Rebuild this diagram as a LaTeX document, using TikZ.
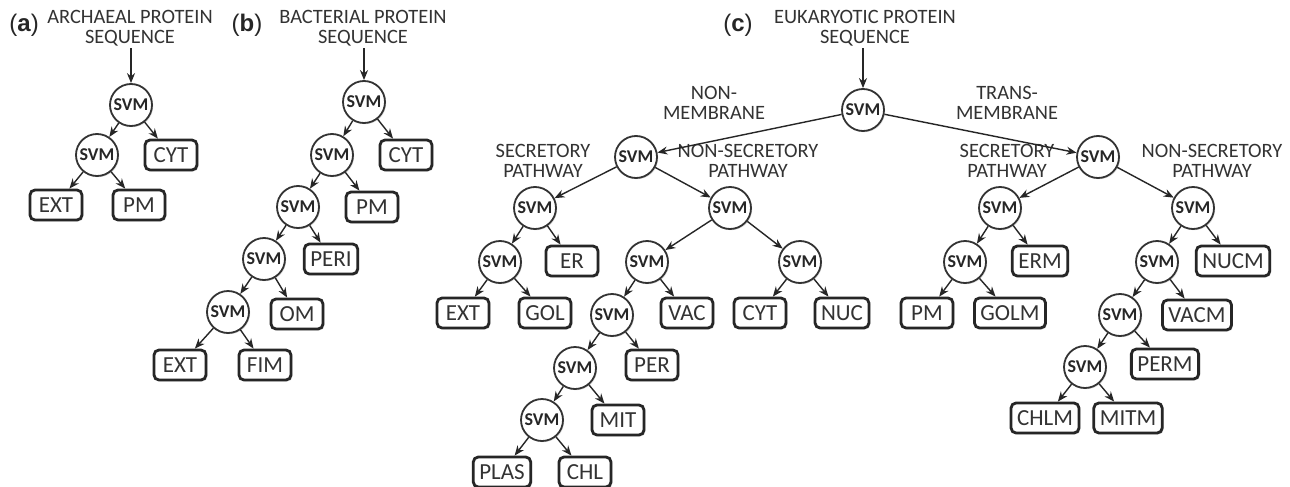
\documentclass[tikz,border=0pt]{standalone}
\usepackage{fontspec}
\setmainfont{Carlito}
\newfontfamily\labfont{Liberation Sans}
\usetikzlibrary{arrows.meta, shadows}

\begin{document}
\begin{tikzpicture}[x=0.5pt, y=-0.5pt,
    svm/.style={circle, draw=black!80, line width=0.9pt, fill=white, minimum size=21pt, inner sep=0pt,
        font=\fontsize{9}{9}\selectfont\bfseries, text=black!85,
        drop shadow={shadow xshift=0.6pt, shadow yshift=-0.6pt, opacity=0.25}},
    cls/.style={rectangle, rounded corners=2.5pt, draw=black!85, line width=1.4pt, fill=white,
        minimum width=26pt, minimum height=15pt, inner xsep=3pt, font=\fontsize{11.5}{11.5}\selectfont,
        text=black!80, drop shadow={shadow xshift=0.7pt, shadow yshift=-0.7pt, opacity=0.35}},
    hd/.style={align=center, inner sep=1pt, font=\fontsize{10.2}{9.8}\selectfont, text=black!80},
    lab/.style={inner sep=0pt, font=\labfont\fontsize{12}{12}\selectfont, text=black!85},
    arr/.style={-{Stealth[length=5pt, width=4pt]}, line width=0.7pt, draw=black!85}]

    % 0. 画布大小
    \path[use as bounding box, fill=white] (0,0) rectangle (1290,487);

    % 1. 古菌 (a)
    \node[lab] (La) at (24,25) {(\textbf{a})};
    \node[hd] (Ha) at (130,28) {ARCHAEAL PROTEIN\\SEQUENCE};
    \node[svm] (A1) at (131,105) {SVM};
    \node[svm] (A2) at (97,155) {SVM};
    \node[cls] (A3) at (171,155) {CYT};
    \node[cls] (A4) at (56,205) {EXT};
    \node[cls] (A5) at (139,205) {PM};

    \draw[arr] (Ha.south -| A1) -- (A1);
    \draw[arr] (A1) -- (A2);
    \draw[arr] (A1) -- (A3);
    \draw[arr] (A2) -- (A4);
    \draw[arr] (A2) -- (A5);

    % 2. 细菌 (b)
    \node[lab] (Lb) at (247,25) {(\textbf{b})};
    \node[hd] (Hb) at (363,28) {BACTERIAL PROTEIN\\SEQUENCE};
    \node[svm] (B1) at (364,102) {SVM};
    \node[svm] (B2) at (332,155) {SVM};
    \node[cls] (B3) at (406,155) {CYT};
    \node[svm] (B4) at (298,207) {SVM};
    \node[cls] (B5) at (372,207) {PM};
    \node[svm] (B6) at (264,259) {SVM};
    \node[cls] (B7) at (331,259) {PERI};
    \node[svm] (B8) at (228,312) {SVM};
    \node[cls] (B9) at (297,314) {OM};
    \node[cls] (B10) at (180,365) {EXT};
    \node[cls] (B11) at (265,365) {FIM};

    \draw[arr] (Hb.south -| B1) -- (B1);
    \draw[arr] (B1) -- (B2);
    \draw[arr] (B1) -- (B3);
    \draw[arr] (B2) -- (B4);
    \draw[arr] (B2) -- (B5);
    \draw[arr] (B4) -- (B6);
    \draw[arr] (B4) -- (B7);
    \draw[arr] (B6) -- (B8);
    \draw[arr] (B6) -- (B9);
    \draw[arr] (B8) -- (B10);
    \draw[arr] (B8) -- (B11);

    % 3. 真核 (c): 根节点及分支标签
    \node[lab] (Lc) at (738,25) {(\textbf{c})};
    \node[hd] (Hc) at (865,28) {EUKARYOTIC PROTEIN\\SEQUENCE};
    \node[svm] (C0) at (863,110) {SVM};
    \node[hd] (Tnm) at (714,103) {NON-\\MEMBRANE};
    \node[hd] (Ttm) at (1007,103) {TRANS-\\MEMBRANE};
    \node[svm] (N0) at (636,157) {SVM};
    \node[svm] (T0) at (1098,157) {SVM};
    \node[hd] (Tns) at (543,161) {SECRETORY\\PATHWAY};
    \node[hd] (Tnn) at (748,161) {NON-SECRETORY\\PATHWAY};
    \node[hd] (Tts) at (1007,161) {SECRETORY\\PATHWAY};
    \node[hd] (Ttn) at (1212,161) {NON-SECRETORY\\PATHWAY};

    \draw[arr] (Hc.south -| C0) -- (C0);
    \draw[arr] (C0) -- (N0);
    \draw[arr] (C0) -- (T0);

    % 4. 非膜蛋白子树
    \node[svm] (NS1) at (535,208) {SVM};
    \node[svm] (NS2) at (500,262) {SVM};
    \node[cls] (NS3) at (572,261) {ER};
    \node[cls] (NS4) at (463,313) {EXT};
    \node[cls] (NS5) at (545,313) {GOL};
    \node[svm] (NN1) at (730,208) {SVM};
    \node[svm] (NN2) at (647,262) {SVM};
    \node[svm] (NN3) at (800,262) {SVM};
    \node[svm] (NN4) at (612,315) {SVM};
    \node[cls] (NN5) at (687,313) {VAC};
    \node[cls] (NN6) at (760,313) {CYT};
    \node[cls] (NN7) at (842,313) {NUC};
    \node[svm] (NN8) at (575,368) {SVM};
    \node[cls] (NN9) at (652,365) {PER};
    \node[svm] (NN10) at (542,420) {SVM};
    \node[cls] (NN11) at (618,420) {MIT};
    \node[cls] (NN12) at (502,472) {PLAS};
    \node[cls] (NN13) at (585,472) {CHL};

    \draw[arr] (N0) -- (NS1);
    \draw[arr] (N0) -- (NN1);
    \draw[arr] (NS1) -- (NS2);
    \draw[arr] (NS1) -- (NS3);
    \draw[arr] (NS2) -- (NS4);
    \draw[arr] (NS2) -- (NS5);
    \draw[arr] (NN1) -- (NN2);
    \draw[arr] (NN1) -- (NN3);
    \draw[arr] (NN2) -- (NN4);
    \draw[arr] (NN2) -- (NN5);
    \draw[arr] (NN3) -- (NN6);
    \draw[arr] (NN3) -- (NN7);
    \draw[arr] (NN4) -- (NN8);
    \draw[arr] (NN4) -- (NN9);
    \draw[arr] (NN8) -- (NN10);
    \draw[arr] (NN8) -- (NN11);
    \draw[arr] (NN10) -- (NN12);
    \draw[arr] (NN10) -- (NN13);

    % 5. 跨膜蛋白子树
    \node[svm] (TS1) at (1000,208) {SVM};
    \node[svm] (TS2) at (965,262) {SVM};
    \node[cls] (TS3) at (1040,261) {ERM};
    \node[cls] (TS4) at (927,313) {PM};
    \node[cls] (TS5) at (1010,313) {GOLM};
    \node[svm] (TN1) at (1193,208) {SVM};
    \node[svm] (TN2) at (1157,262) {SVM};
    \node[cls] (TN3) at (1233,261) {NUCM};
    \node[svm] (TN4) at (1120,315) {SVM};
    \node[cls] (TN5) at (1197,315) {VACM};
    \node[svm] (TN6) at (1085,367) {SVM};
    \node[cls] (TN7) at (1165,364) {PERM};
    \node[cls] (TN8) at (1045,418) {CHLM};
    \node[cls] (TN9) at (1128,418) {MITM};

    \draw[arr] (T0) -- (TS1);
    \draw[arr] (T0) -- (TN1);
    \draw[arr] (TS1) -- (TS2);
    \draw[arr] (TS1) -- (TS3);
    \draw[arr] (TS2) -- (TS4);
    \draw[arr] (TS2) -- (TS5);
    \draw[arr] (TN1) -- (TN2);
    \draw[arr] (TN1) -- (TN3);
    \draw[arr] (TN2) -- (TN4);
    \draw[arr] (TN2) -- (TN5);
    \draw[arr] (TN4) -- (TN6);
    \draw[arr] (TN4) -- (TN7);
    \draw[arr] (TN6) -- (TN8);
    \draw[arr] (TN6) -- (TN9);

\end{tikzpicture}
\end{document}
